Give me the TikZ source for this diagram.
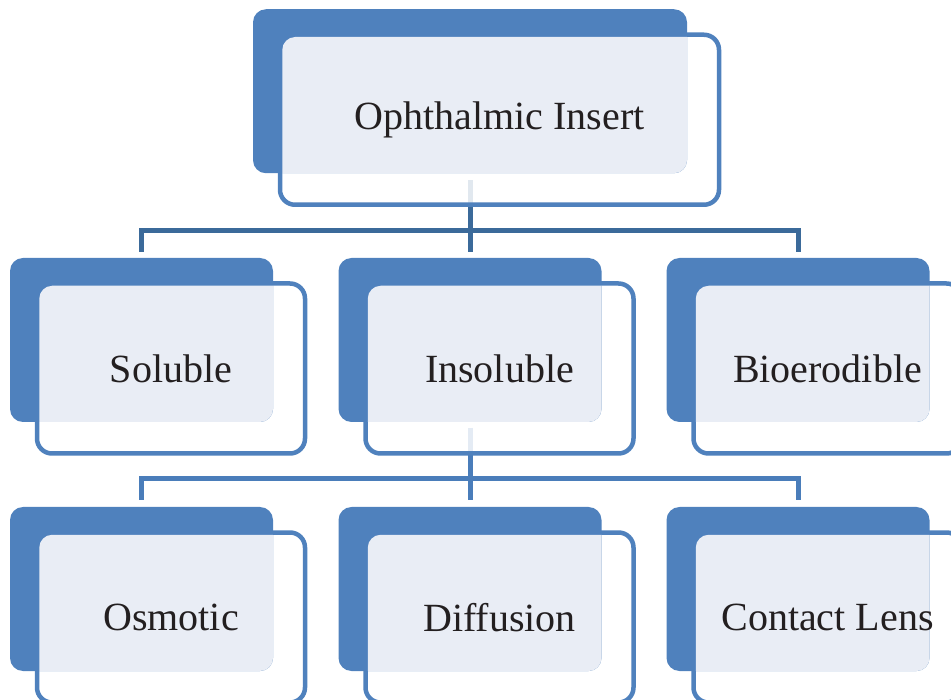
\documentclass[tikz,border=0pt]{standalone}
\usepackage{fontspec}
\setmainfont{Liberation Serif}
\usetikzlibrary{calc,backgrounds}
\definecolor{oitile}{HTML}{4F81BD}
\definecolor{oipane}{HTML}{E9EDF5}
\definecolor{oitrunk}{HTML}{3B6A9A}
\definecolor{oibranch}{HTML}{4A7DBA}
\definecolor{oiink}{HTML}{231F20}
% name, x, y (tile centre), tile width, label
\newcommand{\oibox}[5]{%
  \node[frame, minimum width=#4+5pt] (#1-f) at ($(#2,#3)+(29.5,28.5)$) {};
  \node[tile, minimum width=#4] (#1) at (#2,#3) {};
  \begin{scope}
    \clip[rounded corners=13pt] (#1.north west) rectangle (#1.south east);
    \fill[oipane, rounded corners=13pt] ([shift={(2.25pt,-2.25pt)}]#1-f.north west) rectangle ([shift={(-2.25pt,2.25pt)}]#1-f.south east);
  \end{scope}
  \node[caption] (#1-t) at (#1-f.center) {#5};
}

\begin{document}
\begin{tikzpicture}[x=1pt, y=-1pt,
  tile/.style={fill=oitile, rounded corners=13pt, inner sep=0pt, outer sep=0pt, minimum height=164pt},
  frame/.style={draw=oitile, line width=4.5pt, rounded corners=15pt, fill=white, fill opacity=.85, inner sep=0pt, outer sep=0pt, minimum height=170pt},
  caption/.style={font=\fontsize{40}{46}\selectfont, text=oiink, inner sep=0pt},
  trunk/.style={line width=5pt, oitrunk},
  branch/.style={line width=5pt, oibranch},
]
  \useasboundingbox (0,0) rectangle (951,700);
  \oibox{ins}{470}{91.25}{434pt}{Ophthalmic Insert}
  \foreach \nm/\cx/\txt in {sol/141.5/Soluble, insol/470/Insoluble, bio/798/Bioerodible}
    {\oibox{\nm}{\cx}{340}{263pt}{\txt}}
  \foreach \nm/\cx/\txt in {osm/141.5/Osmotic, dif/470/Diffusion, con/798/Contact Lens}
    {\oibox{\nm}{\cx}{589}{263pt}{\txt}}
  \coordinate (bus1) at (470,230.5);
  \coordinate (bus2) at (470,479);
  % links go under the frames, which wash them out
  \begin{scope}[on background layer]
    \draw[trunk] ([yshift=-7pt]ins.south) -- ([yshift=6pt]insol.north);
    \draw[trunk] ([yshift=6pt]sol.north) |- (bus1) -| ([yshift=6pt]bio.north);
    \draw[branch] ([yshift=-6pt]insol.south) -- ([yshift=7pt]dif.north);
    \draw[branch] ([yshift=7pt]osm.north) |- (bus2) -| ([yshift=7pt]con.north);
  \end{scope}
\end{tikzpicture}
\end{document}
